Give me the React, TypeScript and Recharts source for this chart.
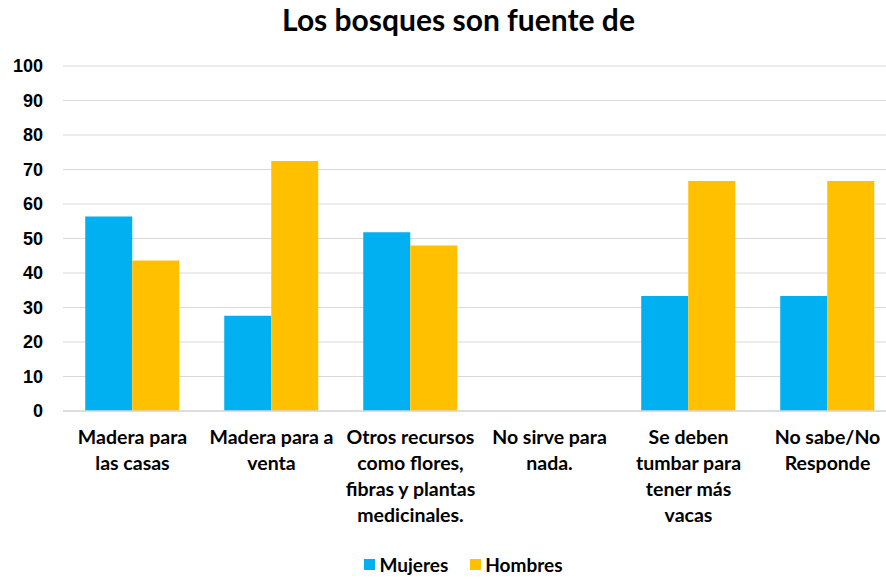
import React from 'react';
import { BarChart, Bar, XAxis, YAxis, CartesianGrid, Legend } from 'recharts';

const categories = [
  "Madera para\nlas casas",
  "Madera para a\nventa",
  "Otros recursos\ncomo flores,\nfibras y plantas\nmedicinales.",
  "No sirve para\nnada.",
  "Se deben\ntumbar para\ntener más\nvacas",
  "No sabe/No\nResponde",
];
const mujeres = [56.4, 27.6, 51.8, 0, 33.3, 33.3];
const hombres = [43.6, 72.5, 48.0, 0, 66.7, 66.7];
const yTicks = [0, 10, 20, 30, 40, 50, 60, 70, 80, 90, 100];
const seriesNames = ["Mujeres", "Hombres"];
const title = "Los bosques son fuente de";

const data = categories.map((c, i) => ({ name: c, Mujeres: mujeres[i], Hombres: hombres[i] }));

const LABEL_FONT = "Lato, 'Liberation Sans', sans-serif";

const XTick = (props: any) => {
  const { x, y, payload } = props;
  const lines = String(payload.value).split("\n");
  return (
    <g transform={`translate(${x},${y})`}>
      {lines.map((l: string, i: number) => (
        <text key={i} x={0} y={0} dy={33 + i * 26} textAnchor="middle" fill="#000"
          fontSize={19.5} fontWeight="bold" fontFamily={LABEL_FONT}>{l}</text>
      ))}
    </g>
  );
};

const LegendContent = (props: any) => {
  const items = [...(props.payload || [])].sort(
    (a: any, b: any) => seriesNames.indexOf(a.value) - seriesNames.indexOf(b.value)
  );
  return (
    <div style={{ display: 'flex', justifyContent: 'center', alignItems: 'center', height: 30, paddingLeft: 30, fontFamily: LABEL_FONT, fontWeight: 'bold', fontSize: 19, color: '#000' }}>
      {items.map((p: any, i: number) => (
        <div key={i} style={{ display: 'flex', alignItems: 'center', marginRight: i === 0 ? 22 : 0 }}>
          <span style={{ display: 'inline-block', width: 11, height: 11, background: p.color, marginRight: 4 }} />
          <span>{p.value}</span>
        </div>
      ))}
    </div>
  );
};

export default function App() {
  return (
    <div style={{ position: 'fixed', left: 0, top: 0, width: 886, height: 579, overflow: 'hidden', background: '#fff' }}>
      <div style={{ position: 'absolute', left: 0, top: 1, width: 917, textAlign: 'center', fontFamily: LABEL_FONT, fontWeight: 'bold', fontSize: 30, color: '#000', whiteSpace: 'nowrap' }}>
        {title}
      </div>
      <div style={{ position: 'absolute', left: 0, top: 0 }}>
        <BarChart width={900} height={579} data={data} margin={{ top: 66, right: 3, left: 0, bottom: 0 }}
          barCategoryGap="16%" barGap={0}>
          <CartesianGrid vertical={false} stroke="#d9d9d9" strokeWidth={1} />
          <XAxis dataKey="name" height={138} interval={0} tickLine={false} tickSize={0} tickMargin={0}
            axisLine={{ stroke: '#d9d9d9', strokeWidth: 1.5 }} tick={<XTick />} />
          <YAxis domain={[0, 100]} ticks={yTicks} width={63} axisLine={false} tickLine={false} tickSize={0} tickMargin={20}
            tick={{ fill: '#000', fontSize: 18, fontWeight: 'bold', fontFamily: "'Liberation Sans', Arial, sans-serif" }} interval={0} />
          <Legend verticalAlign="bottom" height={30} content={<LegendContent />} />
          <Bar dataKey="Mujeres" name={seriesNames[0]} fill="#00B0F0" isAnimationActive={false} />
          <Bar dataKey="Hombres" name={seriesNames[1]} fill="#FFC000" isAnimationActive={false} />
        </BarChart>
      </div>
    </div>
  );
}
